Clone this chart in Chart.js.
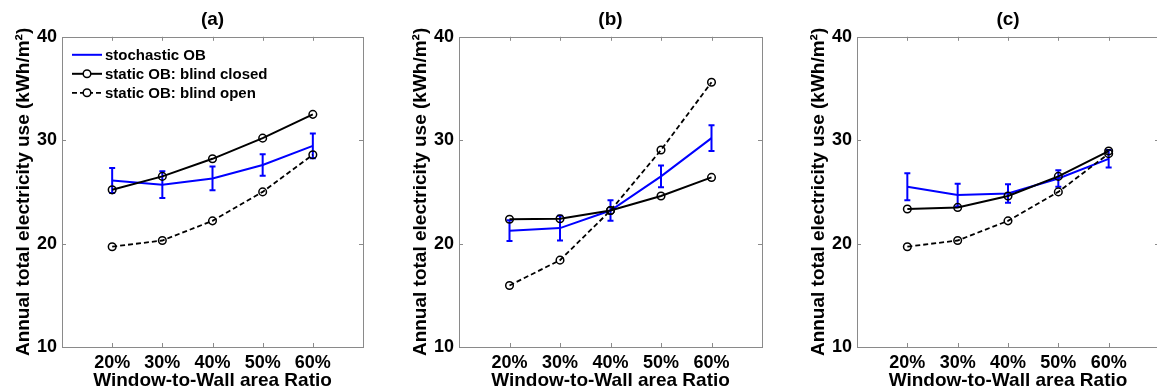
<!DOCTYPE html>
<html><head><meta charset="utf-8">
<script src="https://cdn.jsdelivr.net/npm/chart.js@4.4.1/dist/chart.umd.min.js"></script>
<style>
html,body{margin:0;padding:0;background:#fff;overflow:hidden;width:1157px;height:390px;position:relative;}
canvas{position:absolute;top:0;}
</style></head><body>
<canvas id="ca" width="373" height="390" style="left:0px"></canvas>
<canvas id="cb" width="375" height="390" style="left:397px"></canvas>
<canvas id="cc" width="374" height="390" style="left:795px"></canvas>
<script>
// ---- data ----
const categories = ['20%', '30%', '40%', '50%', '60%'];
const wwr = [20, 30, 40, 50, 60];
const yTicks = [10, 20, 30, 40];
const seriesNames = ['stochastic OB', 'static OB: blind closed', 'static OB: blind open'];
const panelTitles = ['(a)', '(b)', '(c)'];
const yTitle = 'Annual total electricity use (kWh/m²)';
const xTitle = 'Window-to-Wall area Ratio';

const aStochastic = [26.1, 25.7, 26.3, 27.6, 29.45];
const aStochErr   = [1.2, 1.3, 1.15, 1.05, 1.2];
const aClosed     = [25.2, 26.5, 28.2, 30.2, 32.5];
const aOpen       = [19.7, 20.3, 22.2, 25.0, 28.6];

const bStochastic = [21.25, 21.5, 23.2, 26.5, 30.2];
const bStochErr   = [1.0, 1.2, 1.0, 1.05, 1.25];
const bClosed     = [22.35, 22.4, 23.2, 24.6, 26.4];
const bOpen       = [15.95, 18.4, 23.2, 29.05, 35.6];

const cStochastic = [25.5, 24.7, 24.85, 26.3, 28.2];
const cStochErr   = [1.3, 1.1, 0.9, 0.8, 0.85];
const cClosed     = [23.35, 23.5, 24.6, 26.5, 28.95];
const cOpen       = [19.7, 20.3, 22.2, 25.0, 28.7];

// ---- rendering ----
const FONT = "'Liberation Sans', Arial, Helvetica, sans-serif";
Chart.defaults.font.family = FONT;
Chart.defaults.color = '#000';

const pts = arr => arr.map((v, i) => ({x: wwr[i], y: v}));

const boxPlugin = {
  id: 'boxTicks',
  beforeDatasetsDraw(chart) {
    const {ctx, chartArea: a, scales} = chart;
    ctx.save();
    ctx.strokeStyle = '#8a8a8a';
    ctx.lineWidth = 1;
    ctx.strokeRect(Math.round(a.left) + 0.5, Math.round(a.top) + 0.5,
                   Math.round(a.right - a.left), Math.round(a.bottom - a.top));
    const L = 4;
    ctx.beginPath();
    wwr.forEach(v => {
      const x = Math.round(scales.x.getPixelForValue(v)) + 0.5;
      ctx.moveTo(x, a.bottom); ctx.lineTo(x, a.bottom - L);
      ctx.moveTo(x, a.top); ctx.lineTo(x, a.top + L);
    });
    yTicks.forEach(v => {
      const y = Math.round(scales.y.getPixelForValue(v)) + 0.5;
      ctx.moveTo(a.left, y); ctx.lineTo(a.left + L, y);
      ctx.moveTo(a.right, y); ctx.lineTo(a.right - L, y);
    });
    ctx.stroke();
    ctx.restore();
  }
};

const errPlugin = {
  id: 'errBars',
  afterDatasetDraw(chart, args) {
    const ds = chart.data.datasets[args.index];
    if (!ds.errors) return;
    const {ctx, scales} = chart;
    ctx.save();
    ctx.strokeStyle = ds.borderColor;
    ctx.lineWidth = 2;
    ctx.beginPath();
    ds.data.forEach((p, i) => {
      const x = scales.x.getPixelForValue(p.x);
      const y1 = scales.y.getPixelForValue(p.y + ds.errors[i]);
      const y2 = scales.y.getPixelForValue(p.y - ds.errors[i]);
      ctx.moveTo(x, y1); ctx.lineTo(x, y2);
      ctx.moveTo(x - 3, y1); ctx.lineTo(x + 3, y1);
      ctx.moveTo(x - 3, y2); ctx.lineTo(x + 3, y2);
    });
    ctx.stroke();
    ctx.restore();
  }
};

const legendPlugin = {
  id: 'innerLegend',
  afterDraw(chart, args, opts) {
    if (!opts || !opts.show) return;
    const {ctx, chartArea: a} = chart;
    const order = [0, 1, 2];
    ctx.save();
    ctx.font = 'bold 15px ' + FONT;
    ctx.textBaseline = 'middle';
    ctx.fillStyle = '#000';
    order.forEach((di, r) => {
      const ds = chart.data.datasets[di];
      const y = a.top + 18 + r * 19;
      const x0 = a.left + 10, x1 = a.left + 40;
      ctx.save();
      ctx.strokeStyle = ds.borderColor;
      ctx.lineWidth = ds.borderWidth;
      ctx.setLineDash(ds.borderDash || []);
      ctx.beginPath(); ctx.moveTo(x0, y); ctx.lineTo(x1, y); ctx.stroke();
      ctx.setLineDash([]);
      if (ds.pointRadius > 0) {
        ctx.fillStyle = '#fff';
        ctx.lineWidth = ds.pointBorderWidth;
        ctx.strokeStyle = ds.pointBorderColor;
        ctx.beginPath(); ctx.arc((x0 + x1) / 2, y, ds.pointRadius, 0, Math.PI * 2);
        ctx.fill(); ctx.stroke();
      }
      ctx.restore();
      ctx.fillText(ds.label, x1 + 3, y + 1);
    });
    ctx.restore();
  }
};

function makePanel(id, title, stoch, err, closed, open, showLegend) {
  const circle = {
    pointStyle: 'circle', pointRadius: 3.8, pointHoverRadius: 3.8,
    pointBorderColor: '#000', pointBackgroundColor: 'rgba(255,255,255,0)', pointBorderWidth: 1.5
  };
  new Chart(document.getElementById(id), {
    type: 'line',
    data: {
      datasets: [
        {label: seriesNames[0], data: pts(stoch), errors: err, borderColor: '#0000ff',
         borderWidth: 2, pointRadius: 0, order: 2, tension: 0},
        Object.assign({label: seriesNames[1], data: pts(closed), borderColor: '#000',
         borderWidth: 2, order: 1, tension: 0}, circle),
        Object.assign({label: seriesNames[2], data: pts(open), borderColor: '#000',
         borderWidth: 1.8, borderDash: [5, 3], order: 0, tension: 0}, circle)
      ]
    },
    options: {
      responsive: false, animation: false, devicePixelRatio: 1,
      layout: {padding: {top: 0, left: 0, right: 10, bottom: 0}},
      plugins: {
        legend: {display: false},
        tooltip: {enabled: false},
        title: {display: true, text: title, fullSize: false, color: '#000',
                font: {size: 19, weight: 'bold', family: FONT}, padding: {top: 8, bottom: 6}},
        innerLegend: {show: showLegend}
      },
      scales: {
        x: {
          type: 'linear', min: 10, max: 70,
          afterBuildTicks: s => { s.ticks = wwr.map(v => ({value: v})); },
          afterFit: s => { s.height = 43; },
          grid: {display: false, drawTicks: false}, border: {display: false},
          ticks: {callback: v => categories[wwr.indexOf(v)], autoSkip: false, maxRotation: 0,
                  padding: 5, color: '#000', font: {size: 18, weight: 'bold', family: FONT}},
          title: {display: true, text: xTitle, color: '#000',
                  font: {size: 19, weight: 'bold', family: FONT, lineHeight: 1}, padding: {top: 0, bottom: 0}}
        },
        y: {
          type: 'linear', min: 10, max: 40,
          afterBuildTicks: s => { s.ticks = yTicks.map(v => ({value: v})); },
          afterFit: s => { s.width = 62; },
          grid: {display: false, drawTicks: false}, border: {display: false},
          ticks: {padding: 5, color: '#000', font: {size: 18, weight: 'bold', family: FONT}},
          title: {display: true, text: yTitle, color: '#000',
                  font: {size: 19, weight: 'bold', family: FONT, lineHeight: 1}, padding: {top: 14, bottom: 0}}
        }
      }
    },
    plugins: [boxPlugin, errPlugin, legendPlugin]
  });
}

makePanel('ca', panelTitles[0], aStochastic, aStochErr, aClosed, aOpen, true);
makePanel('cb', panelTitles[1], bStochastic, bStochErr, bClosed, bOpen, false);
makePanel('cc', panelTitles[2], cStochastic, cStochErr, cClosed, cOpen, false);
</script>
</body></html>
